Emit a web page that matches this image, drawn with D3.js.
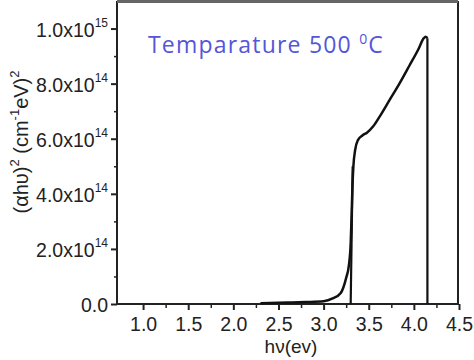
<!DOCTYPE html>
<html><head><meta charset="utf-8">
<script src="https://cdn.jsdelivr.net/npm/d3@7"></script>
<style>body{margin:0;background:#fff}svg{display:block}</style>
</head><body><svg id="c" width="474" height="360"></svg>
<script>
// Data (x: photon energy eV, y: (αhν)^2 in units of 1e14)
const energy = [2.3, 2.6, 2.8, 3.0, 3.1, 3.19, 3.25, 3.28, 3.30, 3.31, 3.32, 3.33, 3.35, 3.38, 3.43, 3.48, 3.55, 3.63, 3.73, 3.84, 3.95, 4.05, 4.11, 4.13, 4.15];
const absorb = [0.03, 0.05, 0.07, 0.1, 0.2, 0.4, 0.95, 1.4, 2.2, 3.2, 4.3, 5.0, 5.6, 5.95, 6.12, 6.22, 6.45, 6.85, 7.4, 8.0, 8.65, 9.25, 9.65, 9.7, 9.65];
const fitLine = [[3.30, 0], [3.322, 5.0]];
const dropLine = [[4.15, 9.65], [4.15, 0]];
const xTickVals = [1.0, 1.5, 2.0, 2.5, 3.0, 3.5, 4.0, 4.5];
const xMinorVals = [1.25, 1.75, 2.25, 2.75, 3.25, 3.75, 4.25];
const yTickVals = [0, 2, 4, 6, 8, 10];
const yTickLabels = [["0.0",""],["2.0x10","14"],["4.0x10","14"],["6.0x10","14"],["8.0x10","14"],["1.0x10","15"]];
const yMinorVals = [1, 3, 5, 7, 9];

const svg = d3.select("#c");
const L = 117, R = 458, T = 2, B = 304;
const x = d3.scaleLinear().domain([0.7, 4.5]).range([116, 459]);
const y = d3.scaleLinear().domain([0, 11]).range([B, 1]);
const font = "'Liberation Sans', Arial, sans-serif";

// frame
svg.append("rect").attr("x", L).attr("y", T).attr("width", R - L).attr("height", B - T)
  .attr("fill", "none").attr("stroke", "#222").attr("stroke-width", 2);
svg.append("line").attr("x1", L).attr("x2", R).attr("y1", 1.5).attr("y2", 1.5)
  .attr("stroke", "#666").attr("stroke-width", 3);

// x axis
const gx = svg.append("g").attr("transform", `translate(0,${B})`);
gx.call(d3.axisBottom(x).tickValues(xTickVals).tickSize(6).tickFormat(d3.format(".1f")));
gx.select(".domain").remove();
gx.selectAll(".tick line").attr("stroke", "#222").attr("stroke-width", 2);
gx.selectAll(".tick text").attr("font-family", font).attr("font-size", 19.5).attr("fill", "#222")
  .attr("y", 27).attr("dy", 0);
const gxm = svg.append("g").attr("transform", `translate(0,${B})`);
gxm.call(d3.axisBottom(x).tickValues(xMinorVals).tickSize(4).tickFormat(""));
gxm.select(".domain").remove();
gxm.selectAll(".tick line").attr("stroke", "#222").attr("stroke-width", 1.5);

// y axis
const gy = svg.append("g").attr("transform", `translate(${L},0)`);
gy.call(d3.axisLeft(y).tickValues(yTickVals).tickSize(6).tickFormat(""));
gy.select(".domain").remove();
gy.selectAll(".tick line").attr("stroke", "#222").attr("stroke-width", 2);
const gym = svg.append("g").attr("transform", `translate(${L},0)`);
gym.call(d3.axisLeft(y).tickValues(yMinorVals).tickSize(3).tickFormat(""));
gym.select(".domain").remove();
gym.selectAll(".tick line").attr("stroke", "#222").attr("stroke-width", 1.5);

yTickVals.forEach((v, i) => {
  const t = svg.append("text").attr("x", 108).attr("y", y(v) + 8)
    .attr("text-anchor", "end").attr("font-family", font).attr("font-size", 19.5).attr("fill", "#222");
  t.append("tspan").text(yTickLabels[i][0]);
  if (yTickLabels[i][1]) t.append("tspan").attr("font-size", 12).attr("dy", -10).text(yTickLabels[i][1]);
});

// axis titles
svg.append("text").attr("x", 291).attr("y", 353).attr("text-anchor", "middle")
  .attr("font-family", font).attr("font-size", 19).attr("fill", "#222").text("hν(ev)");
const yt = svg.append("text").attr("transform", "translate(28,142) rotate(-90)").attr("text-anchor", "middle")
  .attr("font-family", font).attr("font-size", 20).attr("fill", "#222");
yt.append("tspan").text("(αhυ)");
yt.append("tspan").attr("font-size", 13).attr("dy", -9).text("2");
yt.append("tspan").attr("dy", 9).text(" (cm");
yt.append("tspan").attr("font-size", 13).attr("dy", -9).text("-1");
yt.append("tspan").attr("dy", 9).text("eV)");
yt.append("tspan").attr("font-size", 13).attr("dy", -9).text("2");

// curve
const pts = energy.map((e, i) => [e, absorb[i]]);
const line = d3.line().x(d => x(d[0])).y(d => y(d[1]));
svg.append("path").datum(pts).attr("d", line.curve(d3.curveMonotoneX))
  .attr("fill", "none").attr("stroke", "#111").attr("stroke-width", 2.5);
svg.append("path").datum(dropLine).attr("d", d3.line().x(d => x(d[0])).y(d => y(d[1])))
  .attr("fill", "none").attr("stroke", "#111").attr("stroke-width", 2.2);
svg.append("path").datum(fitLine).attr("d", d3.line().x(d => x(d[0])).y(d => y(d[1])))
  .attr("fill", "none").attr("stroke", "#111").attr("stroke-width", 2.2);

// annotation
const an = svg.append("text").attr("x", 148).attr("y", 53)
  .attr("font-family", "'Open Sans', 'Noto Sans', sans-serif").attr("font-size", 23)
  .attr("letter-spacing", 1.2).attr("fill", "#5555d8");
an.append("tspan").text("Temparature 500 ");
an.append("tspan").attr("font-size", 14).attr("dy", -9).text("0");
an.append("tspan").attr("dy", 9).text("C");
</script></body></html>
